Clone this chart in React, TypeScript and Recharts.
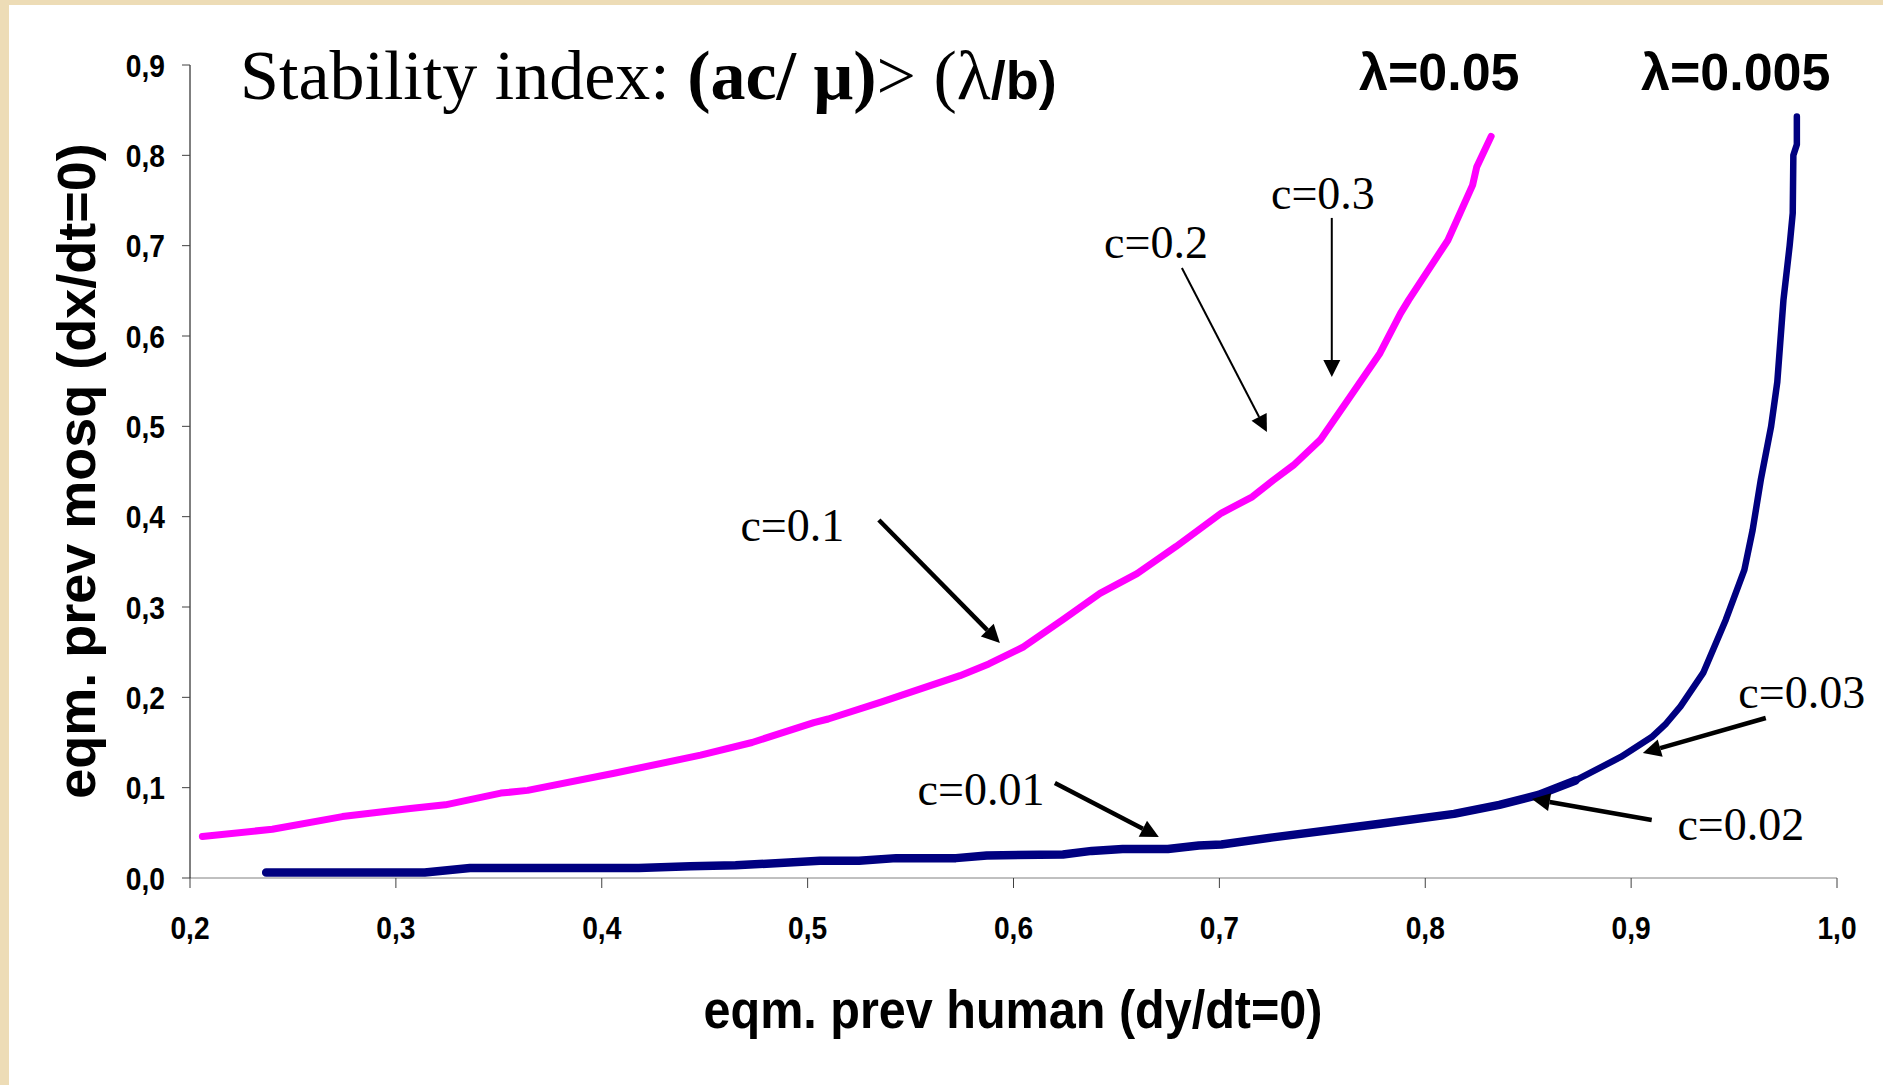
import React from 'react';
import { LineChart, Line, XAxis, YAxis, ReferenceLine, ReferenceDot } from 'recharts';

// equilibrium curves: [eqm. prev human, eqm. prev mosq]
const lambda05: [number, number][] = [
  [0.206, 0.046], [0.240, 0.054], [0.274, 0.068], [0.307, 0.077], [0.324, 0.081],
  [0.351, 0.094], [0.364, 0.097], [0.406, 0.116], [0.448, 0.136], [0.473, 0.150],
  [0.503, 0.172], [0.510, 0.176], [0.536, 0.195], [0.574, 0.224], [0.588, 0.237],
  [0.605, 0.256], [0.624, 0.286], [0.642, 0.315], [0.660, 0.337], [0.679, 0.367],
  [0.701, 0.404], [0.716, 0.422], [0.726, 0.440], [0.736, 0.457], [0.749, 0.485],
  [0.763, 0.531], [0.778, 0.581], [0.788, 0.625], [0.792, 0.640], [0.811, 0.706],
  [0.823, 0.767], [0.825, 0.787], [0.832, 0.821],
];

const lambda005: [number, number][] = [
  [0.237, 0.006], [0.314, 0.006], [0.336, 0.011], [0.418, 0.011], [0.443, 0.013],
  [0.465, 0.014], [0.506, 0.019], [0.525, 0.019], [0.543, 0.022], [0.572, 0.022],
  [0.587, 0.025], [0.624, 0.026], [0.638, 0.030], [0.653, 0.032], [0.675, 0.032],
  [0.690, 0.036], [0.701, 0.037], [0.726, 0.045], [0.778, 0.060], [0.814, 0.071],
  [0.836, 0.081], [0.855, 0.092], [0.873, 0.108], [0.895, 0.134], [0.910, 0.156],
  [0.917, 0.171], [0.924, 0.190], [0.935, 0.227], [0.946, 0.286], [0.955, 0.341],
  [0.959, 0.385], [0.963, 0.441], [0.968, 0.500], [0.971, 0.549], [0.974, 0.640],
  [0.977, 0.700], [0.9785, 0.736], [0.9788, 0.800], [0.9805, 0.812], [0.9805, 0.843],
];

const xTicks = [0.2, 0.3, 0.4, 0.5, 0.6, 0.7, 0.8, 0.9, 1.0];
const yTicks = [0, 0.1, 0.2, 0.3, 0.4, 0.5, 0.6, 0.7, 0.8, 0.9];

// c annotations, in data units: label anchor, arrow tail, arrow tip
const cLabels = ['c=0.3', 'c=0.2', 'c=0.1', 'c=0.01', 'c=0.03', 'c=0.02'];
const cLabelAt: [number, number][] = [
  [0.7503, 0.7406], [0.6692, 0.6864], [0.4926, 0.3731],
  [0.5842, 0.0808], [0.9829, 0.1882], [0.9533, 0.0421],
];
const cArrowFrom: [number, number][] = [
  [0.7546, 0.7307], [0.6818, 0.6753], [0.5346, 0.3963],
  [0.6201, 0.1052], [0.9654, 0.1771], [0.9100, 0.0642],
];
const cArrowTo: [number, number][] = [
  [0.7546, 0.5546], [0.7231, 0.4937], [0.5934, 0.2602],
  [0.6706, 0.0454], [0.9057, 0.1384], [0.8518, 0.0875],
];
const thinArrows = ['c=0.3', 'c=0.2'];

const SANS = '"Liberation Sans", Arial, sans-serif';
const SERIF = '"Liberation Serif", "Times New Roman", serif';

const toPts = (arr: [number, number][]) => arr.map(([x, y]) => ({ x, y }));
const pinkData = toPts(lambda05);
const navyData = toPts(lambda005);
const navyLow = navyData.filter((d) => d.y <= 0.11);

const fmt = (v: number) => v.toFixed(1).replace('.', ',');

// narrow bold tick labels (Arial Narrow look)
function NarrowTick(props: any) {
  const { x, y, payload, textAnchor, vertical } = props;
  return (
    <g transform={`translate(${x},${y}) scale(0.88,1)`}>
      <text x={0} y={0} dy={vertical ? '0.36em' : '0.71em'} textAnchor={textAnchor}
        fontFamily={SANS} fontWeight={700} fontSize={32} fill="#000">
        {fmt(payload.value)}
      </text>
    </g>
  );
}

function arrow(width: number, head: number) {
  return (p: any) => {
    const x1 = Number(p.x1), y1 = Number(p.y1), x2 = Number(p.x2), y2 = Number(p.y2);
    const len = Math.hypot(x2 - x1, y2 - y1) || 1;
    const ux = (x2 - x1) / len, uy = (y2 - y1) / len;
    const bx = x2 - ux * head, by = y2 - uy * head;
    const hw = head * 0.5;
    return (
      <g>
        <line x1={x1} y1={y1} x2={bx} y2={by} stroke="#000" strokeWidth={width} />
        <polygon
          points={`${x2},${y2} ${bx - uy * hw},${by + ux * hw} ${bx + uy * hw},${by - ux * hw}`}
          fill="#000"
        />
      </g>
    );
  };
}

export default function App() {
  return (
    <div style={{ position: 'absolute', left: 0, top: 0, width: 1883, height: 1085, background: '#EDDCB6', overflow: 'hidden' }}>
      <div style={{ position: 'absolute', left: 9, top: 5, right: 0, bottom: 0, background: '#fff' }} />
      <div style={{ position: 'absolute', left: 0, top: 0 }}>
        <LineChart width={1883} height={1085} margin={{ top: 65, right: 46, bottom: 147, left: 130 }}>
          <XAxis
            type="number"
            dataKey="x"
            domain={[0.2, 1]}
            ticks={xTicks}
            interval={0}
            stroke="#808080"
            tickLine={{ stroke: '#404040' }}
            tickSize={10}
            tickMargin={28}
            height={60}
            tick={<NarrowTick vertical={false} />}
          />
          <YAxis
            type="number"
            dataKey="y"
            domain={[0, 0.9]}
            ticks={yTicks}
            interval={0}
            stroke="#000"
            tickLine={{ stroke: '#404040' }}
            tickSize={8}
            tickMargin={17}
            width={60}
            tick={<NarrowTick vertical />}
          />
          <Line data={pinkData} dataKey="y" type="linear" stroke="#FF00FF" strokeWidth={7}
            strokeLinecap="round" strokeLinejoin="round" dot={false} isAnimationActive={false} />
          <Line data={navyData} dataKey="y" type="linear" stroke="#000080" strokeWidth={6.5}
            strokeLinecap="round" strokeLinejoin="round" dot={false} isAnimationActive={false} />
          <Line data={navyLow} dataKey="y" type="linear" stroke="#000080" strokeWidth={8.5}
            strokeLinecap="round" strokeLinejoin="round" dot={false} isAnimationActive={false} />
          {cLabels.map((lab, i) => (
            <ReferenceLine
              key={'a' + lab}
              segment={[
                { x: cArrowFrom[i][0], y: cArrowFrom[i][1] },
                { x: cArrowTo[i][0], y: cArrowTo[i][1] },
              ]}
              shape={thinArrows.includes(lab) ? arrow(2, 17) : arrow(4.5, 18)}
            />
          ))}
          {cLabels.map((lab, i) => (
            <ReferenceDot
              key={'t' + lab}
              x={cLabelAt[i][0]}
              y={cLabelAt[i][1]}
              r={0}
              shape={(p: any) => (
                <text x={p.cx} y={p.cy} textAnchor="middle" fontFamily={SERIF} fontSize={46} fill="#000">
                  {lab}
                </text>
              )}
            />
          ))}
        </LineChart>
      </div>
      <svg width={1883} height={1085} style={{ position: 'absolute', left: 0, top: 0, pointerEvents: 'none' }}>
        <text x={240} y={99} fontFamily={SERIF} fontSize={70} fill="#000">
          <tspan>Stability index: </tspan>
          <tspan fontWeight={700}>(ac/ μ)</tspan>
          <tspan>&gt; (λ</tspan>
          <tspan fontFamily={SANS} fontWeight={700} fontSize={54}>/b)</tspan>
        </text>
        <text x={1359} y={90} fontFamily={SANS} fontWeight={700} fontSize={52} fill="#000">λ=0.05</text>
        <text x={1641} y={90} fontFamily={SANS} fontWeight={700} fontSize={52} fill="#000">λ=0.005</text>
        <text x={1013} y={1028} textAnchor="middle" fontFamily={SANS} fontWeight={700} fontSize={53}
          textLength={619} lengthAdjust="spacingAndGlyphs" fill="#000">
          eqm. prev human (dy/dt=0)
        </text>
        <text transform="translate(95,471) rotate(-90)" textAnchor="middle" fontFamily={SANS}
          fontWeight={700} fontSize={54} fill="#000">
          eqm. prev mosq (dx/dt=0)
        </text>
      </svg>
    </div>
  );
}
